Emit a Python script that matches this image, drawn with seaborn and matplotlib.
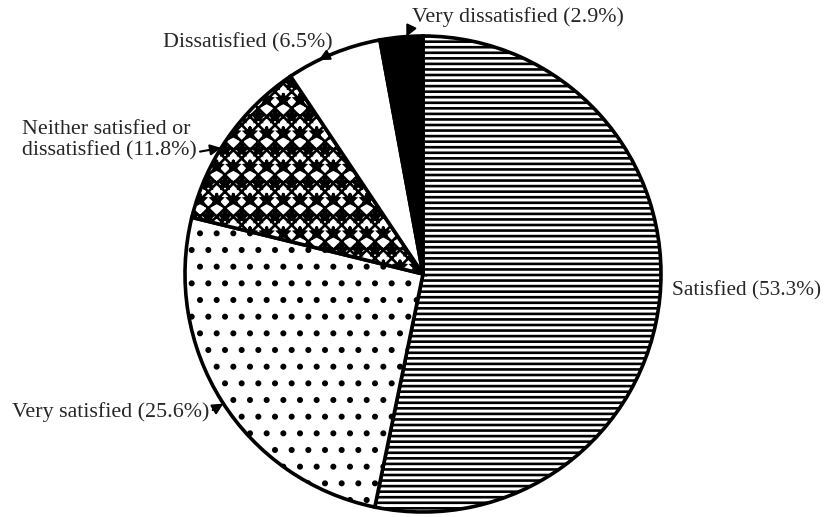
import numpy as np
import matplotlib
matplotlib.use("Agg")
import matplotlib.pyplot as plt
import seaborn as sns

# satisfaction shares, clockwise from 12 o'clock
categories = ["Satisfied", "Very satisfied", "Neither satisfied or\ndissatisfied",
              "Dissatisfied", "Very dissatisfied"]
percentages = [53.3, 25.6, 11.8, 6.5, 2.9]
labels = ["%s (%.1f%%)" % (c, p) for c, p in zip(categories, percentages)]

sns.set_style("white")
plt.rcParams["font.family"] = ["Liberation Serif", "DejaVu Serif"]
plt.rcParams["hatch.linewidth"] = 1.9

W, H = 831, 517
CX, CY, R = 423, 274, 238  # pie centre / radius in pixels


def px(x, y):
    return (x - CX) / R, (CY - y) / R


fig = plt.figure(figsize=(W / 100, H / 100), dpi=100)
ax = fig.add_axes([0, 0, 1, 1])

fills = ["white", "white", "white", "white", "black"]
hatches = ["---", ".", "xx*", "", ""]
wedges, _ = ax.pie(percentages, startangle=90, counterclock=False, colors=fills,
                   wedgeprops=dict(edgecolor="black", linewidth=2.6))
for w, h in zip(wedges, hatches):
    w.set_hatch(h)

ax.set_xlim(-CX / R, (W - CX) / R)
ax.set_ylim(-(H - CY) / R, CY / R)
ax.set_aspect("auto")
ax.axis("off")

# text anchor (left, centre y) in pixels, arrow angle on rim, arrow start on text box
text_pos = [(672, 291), (12, 412), (22, 140), (163, 43), (412, 17)]
arrow_ang = [None, 213, 148, 116, 94]
rel = [None, (1, 0.5), (1, 0.2), (1, 0.0), (0, 0.1)]

for lab, (tx, ty), ang, rp in zip(labels, text_pos, arrow_ang, rel):
    size = 15.3 if ang is None else 15.8
    if ang is None:
        ax.text(*px(tx, ty), lab, fontsize=size, ha="left", va="center")
        continue
    a = np.deg2rad(ang)
    ax.annotate(lab, xy=(np.cos(a), np.sin(a)), xytext=px(tx, ty),
                fontsize=size, ha="left", va="center", linespacing=1.15,
                arrowprops=dict(arrowstyle="-|>", color="black", lw=1.5,
                                mutation_scale=16, shrinkA=0, shrinkB=0,
                                relpos=rp))

plt.savefig("out.png", dpi=100)
